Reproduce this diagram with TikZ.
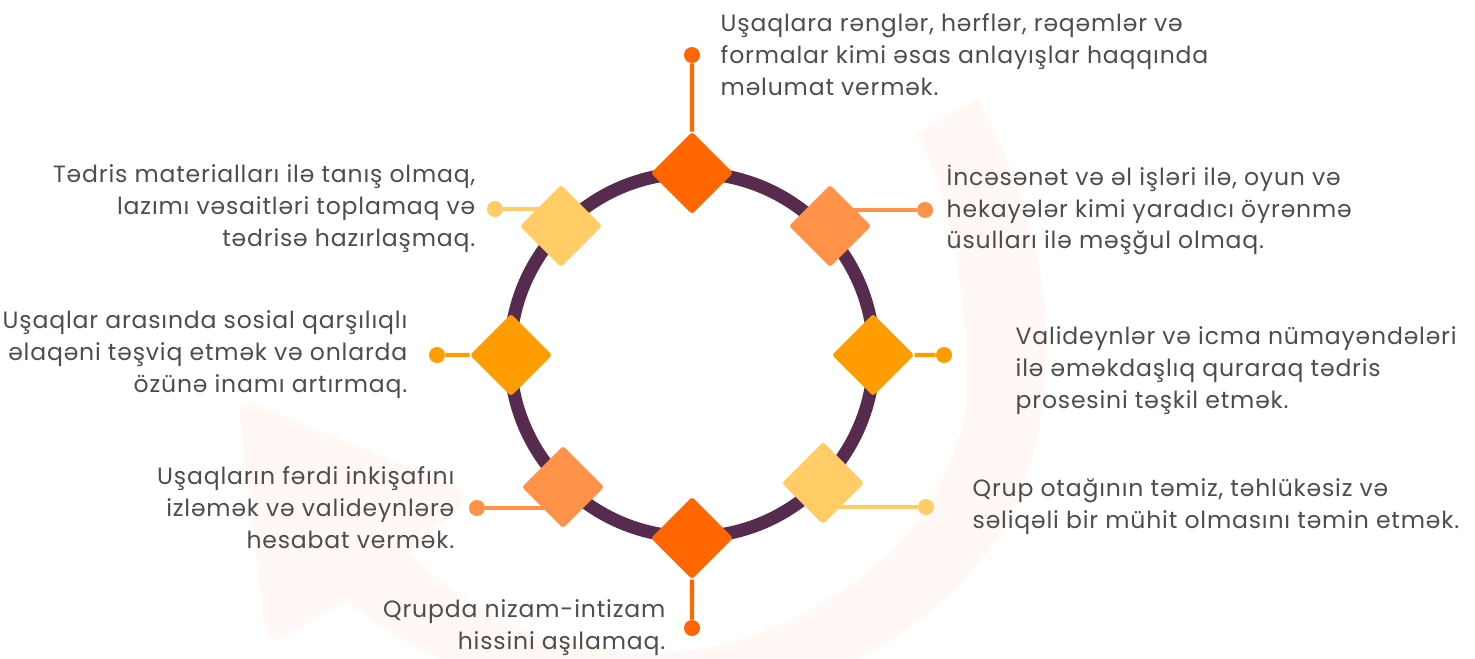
\documentclass[tikz,border=0pt]{standalone}
\usepackage{fontspec}
\setmainfont{Poppins}[LetterSpace=3.5]
\usepackage{tikz}
\usetikzlibrary{
    positioning,
    backgrounds
}
\definecolor{ringPlum}{RGB}{86, 43, 77}
\definecolor{deepOrange}{RGB}{255, 102, 0}
\definecolor{softOrange}{RGB}{255, 146, 73}
\definecolor{amber}{RGB}{255, 157, 0}
\definecolor{paleYellow}{RGB}{255, 204, 102}
\definecolor{textGray}{RGB}{77, 77, 77}
\definecolor{bgPeach}{RGB}{255, 248, 244}

\tikzset{
    gem/.style={rectangle, rotate=45, minimum size=1.16cm, inner sep=0pt, rounded corners=1.5pt},
    pin/.style={circle, minimum size=0.32cm, inner sep=0pt},
    stick/.style={line width=2.3pt},
    txtL/.style={align=left, text=textGray, inner sep=0pt, font=\fontsize{13.4}{18.2}\selectfont},
    txtR/.style={align=right, text=textGray, inner sep=0pt, font=\fontsize{13.4}{18.2}\selectfont}
}

\begin{document}
\begin{tikzpicture}[x=0.02cm, y=-0.02cm]
    \useasboundingbox (0,0) rectangle (1475,659);

    % faint round arrow behind
    \begin{scope}[on background layer]
        \fill[bgPeach] (917,133) -- (977,98)
            .. controls (1035,200) and (1060,320) .. (1040,420)
            .. controls (1025,520) and (975,578) .. (910,627)
            .. controls (760,740) and (500,730) .. (347,600)
            [rounded corners=12pt] -- (267,647) -- (237,397) -- (473,493) [sharp corners] -- (411,553)
            .. controls (490,640) and (640,680) .. (760,633)
            .. controls (820,610) and (900,560) .. (933,497)
            .. controls (955,455) and (968,420) .. (967,380)
            .. controls (966,290) and (950,200) .. (917,133) -- cycle;
    \end{scope}

    \coordinate (O) at (692,355);
    \draw[ringPlum, line width=7.4pt] (O) circle (182);

    % diamonds on the ring
    \node[gem, fill=deepOrange] (gTop) at (692,173) {};
    \node[gem, fill=softOrange] (gUR) at (830,226) {};
    \node[gem, fill=amber] (gR) at (873,355) {};
    \node[gem, fill=paleYellow] (gLR) at (823,483) {};
    \node[gem, fill=deepOrange] (gBot) at (692,538) {};
    \node[gem, fill=softOrange] (gLL) at (563,487) {};
    \node[gem, fill=amber] (gL) at (511,355) {};
    \node[gem, fill=paleYellow] (gUL) at (561,226) {};

    % end dots
    \node[pin, fill=deepOrange] (pTop) at (692,55) {};
    \node[pin, fill=softOrange] (pUR) at (925,210) {};
    \node[pin, fill=amber] (pR) at (944,355) {};
    \node[pin, fill=paleYellow] (pLR) at (926,507) {};
    \node[pin, fill=deepOrange] (pBot) at (692,628) {};
    \node[pin, fill=softOrange] (pLL) at (477,508) {};
    \node[pin, fill=amber] (pL) at (437,355) {};
    \node[pin, fill=paleYellow] (pUL) at (495,209) {};

    \begin{scope}[on background layer]
        \draw[stick, deepOrange] (pTop) -- (gTop);
        \draw[stick, deepOrange] (pBot) -- (gBot);
        \draw[stick, softOrange] (pUR) -- (pUR -| gUR);
        \draw[stick, softOrange] (pLL) -- (pLL -| gLL);
        \draw[stick, amber] (pR) -- (gR);
        \draw[stick, amber] (pL) -- (gL);
        \draw[stick, paleYellow] (pLR) -- (pLR -| gLR);
        \draw[stick, paleYellow] (pUL) -- (pUL -| gUL);
    \end{scope}

    % texts
    \node[txtL, right=0.4cm of pTop] (tTop) {Uşaqlara rənglər, hərflər, rəqəmlər və\\formalar kimi əsas anlayışlar haqqında\\məlumat vermək.};
    \node[txtL, right=0.26cm of pUR] (tUR) {İncəsənət və əl işləri ilə, oyun və\\hekayələr kimi yaradıcı öyrənmə\\üsulları ilə məşğul olmaq.};
    \node[txtL, right=1.26cm of pR, yshift=-0.32cm] (tR) {Valideynlər və icma nümayəndələri\\ilə əməkdaşlıq quraraq tədris\\prosesini təşkil etmək.};
    \node[txtL, right=0.76cm of pLR] (tLR) {Qrup otağının təmiz, təhlükəsiz və\\səliqəli bir mühit olmasını təmin etmək.};
    \node[txtR, left=0.36cm of pBot] (tBot) {Qrupda nizam-intizam\\hissini aşılamaq.};
    \node[txtR, left=0.28cm of pLL] (tLL) {Uşaqların fərdi inkişafını\\izləmək və valideynlərə\\hesabat vermək.};
    \node[txtR, left=0.42cm of pL] (tL) {Uşaqlar arasında sosial qarşılıqlı\\əlaqəni təşviq etmək və onlarda\\özünə inamı artırmaq.};
    \node[txtR, left=0.22cm of pUL] (tUL) {Tədris materialları ilə tanış olmaq,\\lazımı vəsaitləri toplamaq və\\tədrisə hazırlaşmaq.};
\end{tikzpicture}
\end{document}
